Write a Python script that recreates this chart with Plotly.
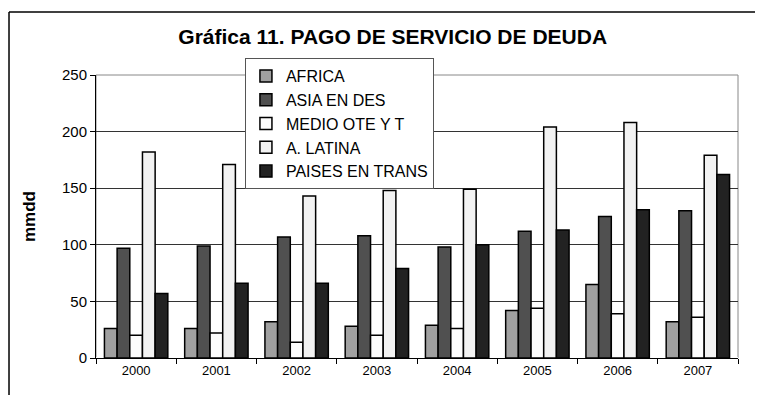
import plotly.graph_objects as go

years = ["2000", "2001", "2002", "2003", "2004", "2005", "2006", "2007"]

africa = [26, 26, 32, 28, 29, 42, 65, 32]
asia = [97, 99, 107, 108, 98, 112, 125, 130]
medio_oriente = [20, 22, 14, 20, 26, 44, 39, 36]
america_latina = [182, 171, 143, 148, 149, 204, 208, 179]
paises_trans = [57, 66, 66, 79, 100, 113, 131, 162]

series = [
    ("AFRICA", africa, "#a0a0a0"),
    ("ASIA EN DES", asia, "#505050"),
    ("MEDIO OTE Y T", medio_oriente, "#fdfdfd"),
    ("A. LATINA", america_latina, "#f2f2f2"),
    ("PAISES EN TRANS", paises_trans, "#222222"),
]

font = "Arial, Liberation Sans, sans-serif"

fig = go.Figure()
for name, vals, color in series:
    fig.add_trace(go.Bar(
        x=years, y=vals, name=name,
        marker=dict(color=color, line=dict(color="black", width=1.5)),
    ))

# page body has an 8px margin -> keep the figure small enough to avoid scrollbars
fig.update_layout(
    width=747, height=387,
    margin=dict(l=88, r=17, t=67, b=37),
    paper_bgcolor="white", plot_bgcolor="white",
    barmode="group", bargap=0.21, bargroupgap=0,
    font=dict(family=font, color="black"),
    title=dict(text="<b>Gráfica 11. PAGO DE SERVICIO DE DEUDA</b>",
               x=0.515, xanchor="center", y=0.925, yanchor="middle",
               font=dict(size=21, color="black")),
    legend=dict(x=0.232, y=1.06, xanchor="left", yanchor="top",
                bgcolor="white", bordercolor="#555", borderwidth=1,
                font=dict(size=16, color="black"),
                itemwidth=30, tracegroupgap=0),
    showlegend=True,
)

fig.update_xaxes(type="category", tickson="boundaries", ticks="outside",
                 ticklen=5, tickcolor="black", showline=True,
                 linecolor="black", linewidth=1,
                 tickfont=dict(size=13), showgrid=False)
fig.update_yaxes(range=[0, 250], dtick=50, ticks="outside", ticklen=5,
                 tickcolor="black", showline=True, linecolor="black",
                 linewidth=1, showgrid=True, gridcolor="#333", gridwidth=1,
                 tickfont=dict(size=15),
                 title=dict(text="<b>mmdd</b>", font=dict(size=17), standoff=22))

# plot area border (gray)
fig.add_shape(type="rect", xref="paper", yref="paper", x0=0, y0=0, x1=1, y1=1,
              line=dict(color="#888", width=1), layer="below")
# outer chart frame: only its left and top edges fall inside the picture
fig.add_shape(type="line", xref="paper", yref="paper",
              x0=-0.1355, y0=-0.4, x1=-0.1355, y1=1.2226,
              line=dict(color="black", width=1.5), layer="below")
fig.add_shape(type="line", xref="paper", yref="paper",
              x0=-0.1355, y0=1.2226, x1=1.2, y1=1.2226,
              line=dict(color="black", width=1.5), layer="below")

fig.write_html("out.html")
